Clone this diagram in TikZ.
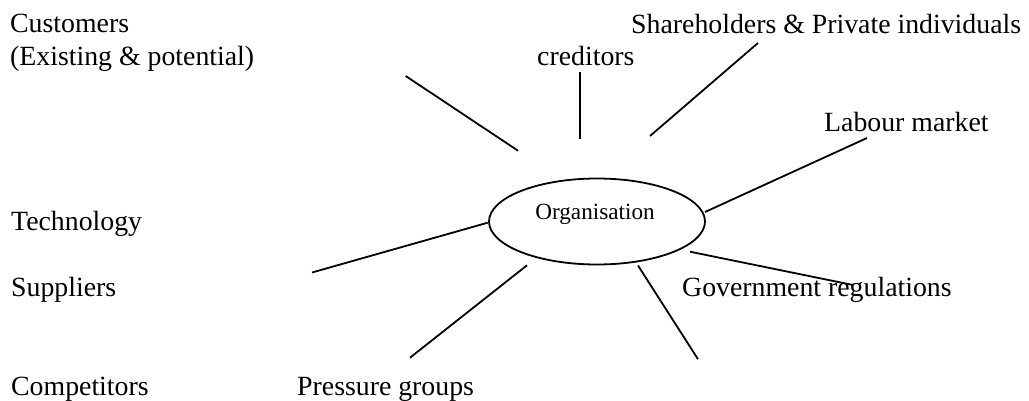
\documentclass[tikz,border=0pt]{standalone}
\usepackage{fontspec}
\setmainfont{Liberation Serif}
\usetikzlibrary{shapes.geometric}
\tikzset{
  lbl/.style={anchor=base west, inner sep=0pt, font=\fontsize{27.8}{33}\selectfont},
  ray/.style={line width=1.8pt},
  orgshape/.style={draw, ellipse, line width=1.8pt, minimum width=216pt, minimum height=86pt, inner sep=0pt},
}
\begin{document}
\begin{tikzpicture}[x=1pt,y=-1pt]
\useasboundingbox (0,0) rectangle (1029,400);
% labels
\node[lbl, anchor=north west, align=left] (cust) at (10,14) {Customers\\(Existing \& potential)};
\node[lbl] (cred) at (537,65) {creditors};
\node[lbl] (share) at (631,33) {Shareholders \& Private individuals};
\node[lbl] (labour) at (824,131) {Labour market};
\node[lbl] (tech) at (11,230) {Technology};
\node[lbl] (supp) at (11,296) {Suppliers};
\node[lbl] (gov) at (682,296) {Government regulations};
\node[lbl] (comp) at (11,395) {Competitors};
\node[lbl] (press) at (297,395) {Pressure groups};
% organisation
\node[orgshape] (org) at (597,221.5) {};
\node[anchor=base, inner sep=0pt, font=\fontsize{23.2}{28}\selectfont] (orgtxt) at (595,219) {Organisation};
% ray end points
\coordinate (custA) at (405.7,76);   \coordinate (custB) at (518,150.7);
\coordinate (credA) at (580,72);     \coordinate (credB) at (580,139);
\coordinate (shareA) at (758,43);    \coordinate (shareB) at (650,136);
\coordinate (labA) at (867,138);     \coordinate (labB) at (705,212);
\coordinate (govA) at (690,251.7);   \coordinate (govB) at (853,285);
\coordinate (brA) at (638,265.5);    \coordinate (brB) at (698,359.2);
\coordinate (pressA) at (527,265.3); \coordinate (pressB) at (410,357.7);
\coordinate (suppA) at (487.7,222.7);\coordinate (suppB) at (312,272.5);
% rays
\draw[ray] (custA) -- (custB);
\draw[ray] (credA) -- (credB);
\draw[ray] (shareA) -- (shareB);
\draw[ray] (labA) -- (labB);
\draw[ray] (govA) -- (govB);
\draw[ray] (brA) -- (brB);
\draw[ray] (pressA) -- (pressB);
\draw[ray] (suppA) -- (suppB);
\end{tikzpicture}
\end{document}
